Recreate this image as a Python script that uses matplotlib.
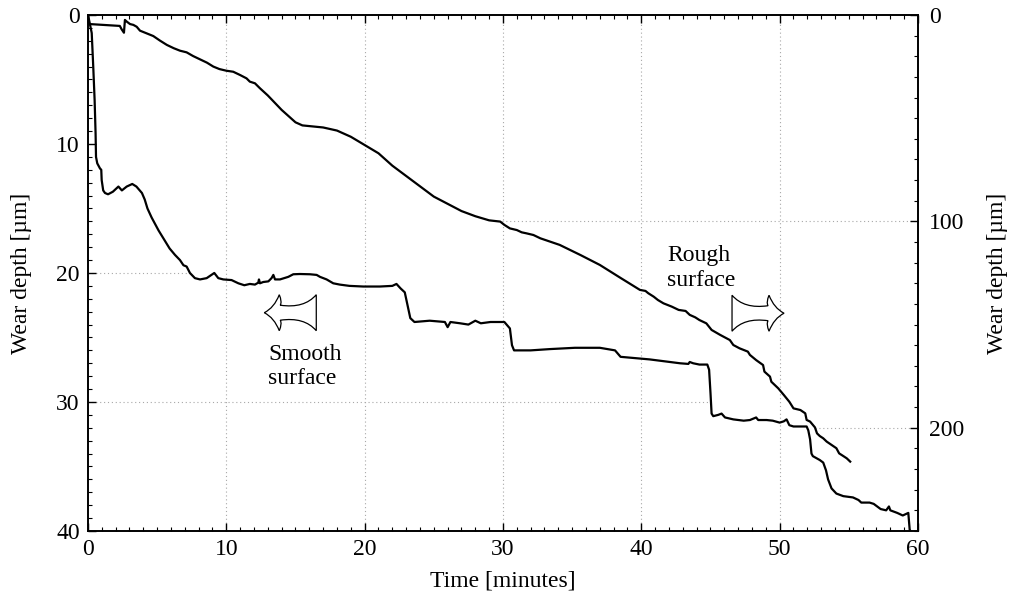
"""Wear depth over time for a smooth and a rough surface (twin y axes)"""

import numpy as np
import matplotlib

matplotlib.use("Agg")
import matplotlib.pyplot as plt
from matplotlib.path import Path
from matplotlib.patches import PathPatch
from matplotlib.ticker import MultipleLocator, FixedLocator
import matplotlib.transforms as mtrans

plt.rcParams["font.family"] = ["Liberation Serif", "DejaVu Serif"]
plt.rcParams["font.size"] = 17

# smooth surface: (time [min], wear depth [um]) -> left axis
smooth_points = [
    (0, 0), (0.12, 0.6), (0.27, 1.4), (0.38, 4.0), (0.48, 6.6), (0.55, 9.2),
    (0.58, 11.0), (0.67, 11.5), (0.87, 11.9), (0.96, 12.0), (0.99, 12.8),
    (1.1, 13.6), (1.23, 13.8), (1.45, 13.9), (1.8, 13.7), (2.2, 13.3),
    (2.45, 13.6), (2.8, 13.3), (3.2, 13.1), (3.5, 13.3), (3.9, 13.8),
    (4.1, 14.3), (4.3, 15.0), (4.6, 15.7), (5.1, 16.7), (5.9, 18.1),
    (6.29, 18.6), (6.65, 19.0), (6.9, 19.4), (7.13, 19.5), (7.37, 20.0),
    (7.73, 20.4), (8.1, 20.5), (8.58, 20.4), (9.13, 20.0), (9.42, 20.4),
    (9.78, 20.5), (10.38, 20.55), (10.87, 20.8), (11.3, 20.95), (11.7, 20.85),
    (12.07, 20.9), (12.31, 20.75), (12.36, 20.5), (12.43, 20.8), (12.67, 20.7),
    (13.04, 20.65), (13.27, 20.4), (13.4, 20.15), (13.52, 20.5), (13.88, 20.5),
    (14.48, 20.3), (14.84, 20.1), (15.32, 20.08), (16.05, 20.1), (16.53, 20.15),
    (16.77, 20.3), (17.25, 20.5), (17.73, 20.8), (18.2, 20.9), (18.9, 21.0),
    (19.9, 21.05), (21.1, 21.05), (22.0, 21.0), (22.3, 20.85), (22.6, 21.2),
    (22.9, 21.5), (23.1, 22.5), (23.3, 23.5), (23.6, 23.8), (24.7, 23.7),
    (25.8, 23.8), (26.0, 24.2), (26.2, 23.8), (26.9, 23.9), (27.5, 24.0),
    (28.0, 23.7), (28.4, 23.9), (29.1, 23.8), (30.1, 23.8), (30.5, 24.3),
    (30.65, 25.6), (30.8, 26.0), (32.0, 26.0), (33.4, 25.9), (35.2, 25.8),
    (37.0, 25.8), (38.1, 26.0), (38.5, 26.5), (40.6, 26.7), (42.8, 27.0),
    (43.4, 27.05), (43.5, 26.9), (43.75, 27.0), (44.2, 27.1), (44.77, 27.1),
    (44.9, 27.5), (45.0, 29.3), (45.08, 30.9), (45.2, 31.1), (45.56, 31.0),
    (45.8, 30.9), (46.05, 31.2), (46.65, 31.35), (47.4, 31.45), (47.85, 31.4),
    (48.3, 31.2), (48.45, 31.4), (49.06, 31.4), (49.5, 31.45), (50.0, 31.6),
    (50.3, 31.5), (50.5, 31.35), (50.7, 31.8), (51.0, 31.9), (51.7, 31.9),
    (51.95, 31.9), (52.07, 32.2), (52.2, 32.9), (52.3, 34.0), (52.4, 34.2),
    (52.9, 34.5), (53.15, 34.7), (53.35, 35.3), (53.5, 36.0), (53.75, 36.7),
    (54.1, 37.1), (54.6, 37.3), (55.3, 37.4), (55.7, 37.6), (55.9, 37.8),
    (56.5, 37.8), (56.8, 37.9), (57.3, 38.3), (57.7, 38.4), (57.9, 38.1),
    (58.0, 38.4), (58.5, 38.6), (58.9, 38.8), (59.3, 38.6), (59.4, 39.9),
    (59.5, 40.1),
]

# rough surface: (time [min], wear depth [um]) -> right axis
rough_points = [
    (0, 0), (0.05, 4.5), (0.12, 4.4), (2.3, 5.3), (2.43, 6.9), (2.6, 8.6),
    (2.67, 2.4), (2.8, 3.2), (3.04, 4.4), (3.28, 4.8), (3.52, 5.7),
    (3.76, 7.6), (4.24, 8.9), (4.72, 10.2), (5.2, 12.4), (5.7, 14.5),
    (6.2, 16.1), (6.65, 17.3), (7.13, 18.1), (7.6, 19.9), (8.1, 21.5),
    (8.6, 23.1), (9.06, 25.0), (9.5, 26.2), (10.0, 27.0), (10.5, 27.5),
    (11.0, 29.1), (11.46, 30.7), (11.7, 32.3), (12.07, 33.1), (12.43, 35.5),
    (13, 39), (14, 46), (15, 52), (15.5, 53.5), (17, 54.5), (18, 56),
    (19, 59), (20, 63), (21, 67), (22, 73), (23, 78), (24, 83), (25, 88),
    (26, 91.5), (27, 95), (28, 97.5), (29, 99.5), (29.8, 100.1),
    (30.1, 101.7), (30.5, 103.4), (31.0, 104.2), (31.35, 105.3), (31.7, 105.8),
    (32.2, 106.6), (32.7, 108.2), (34.1, 111.4), (35.6, 116.3), (37.0, 121.1),
    (38.5, 127.4), (39.9, 133.2), (40.3, 133.7), (40.5, 134.8), (40.9, 136.5),
    (41.2, 138.1), (41.6, 139.7), (42.2, 141.3), (42.7, 142.9), (43.2, 143.4),
    (43.5, 145.3), (43.9, 146.5), (44.2, 147.8), (44.7, 149.4), (45.08, 152.6),
    (45.7, 155.0), (46.4, 157.5), (46.65, 159.9), (47.1, 161.5), (47.7, 163.1),
    (47.85, 164.7), (48.3, 167.2), (48.8, 169.6), (48.9, 172.8), (49.3, 175.2),
    (49.4, 177.7), (49.9, 180.9), (50.3, 184.1), (50.7, 187.4), (51.0, 190.6),
    (51.5, 191.4), (51.85, 193.0), (51.95, 196.2), (52.2, 197.0), (52.3, 197.8),
    (52.55, 199.8), (52.7, 202.7), (52.9, 204.0), (53.15, 205.1), (53.4, 206.7),
    (53.75, 208.3), (54.1, 209.9), (54.3, 212.4), (54.6, 213.7), (54.85, 214.8),
    (55.1, 216.4),
]

time_ticks = [0, 10, 20, 30, 40, 50, 60]
left_ticks = [0, 10, 20, 30, 40]
right_ticks = [0, 100, 200]
left_grid_levels = [20, 30]
right_grid_levels = [100, 200]

GRID_KW = dict(color="#a8a8a8", linestyle=(0, (1, 2.5)), linewidth=0.8, zorder=1)


def first_crossing(t: np.ndarray, d: np.ndarray, level: float) -> float:
    """Time at which the curve first reaches the given depth"""
    i = int(np.argmax(d >= level))
    if i == 0:
        return t[0]
    return float(np.interp(level, [d[i - 1], d[i]], [t[i - 1], t[i]]))


def arrow_path(flip: bool) -> Path:
    """Hollow arrow with concave head and tail, sizes in pixels, tip at origin"""
    s = 1 if flip else -1  # -1 -> pointing left
    verts = [
        (0, 0),
        (-s * 10, 5), (-s * 15, 18),
        (-s * 18, 11), (-s * 16, 7.5),
        (-s * 40, 4), (-s * 52, 18),
        (-s * 52, -18),
        (-s * 40, -4), (-s * 16, -7.5),
        (-s * 18, -11), (-s * 15, -18),
        (-s * 10, -5), (0, 0),
        (0, 0),
    ]
    codes = [
        Path.MOVETO,
        Path.CURVE3, Path.CURVE3,
        Path.CURVE3, Path.CURVE3,
        Path.CURVE3, Path.CURVE3,
        Path.LINETO,
        Path.CURVE3, Path.CURVE3,
        Path.CURVE3, Path.CURVE3,
        Path.CURVE3, Path.CURVE3,
        Path.CLOSEPOLY,
    ]
    return Path(verts, codes)


def add_arrow(fig, ax, xf: float, yf: float, flip: bool) -> None:
    """Draw an outlined arrow whose tip sits at (xf, yf) in axes fraction"""
    trans = (
        mtrans.Affine2D().scale(1 / 100.0)
        + fig.dpi_scale_trans
        + mtrans.ScaledTranslation(xf, yf, ax.transAxes)
    )
    patch = PathPatch(arrow_path(flip), facecolor="white", edgecolor="black",
                      linewidth=0.9, transform=trans, clip_on=False, zorder=5)
    fig.add_artist(patch)


def plot_wear() -> None:
    st, sd = np.array(smooth_points).T
    rt, rd = np.array(rough_points).T

    fig = plt.figure(figsize=(10.09, 5.97), dpi=100)
    ax = fig.add_axes([0.0872, 0.1106, 0.8226, 0.8643])
    ax2 = ax.twinx()

    ax.set_xlim(0, 60)
    ax.set_ylim(40, 0)
    ax2.set_ylim(250, 0)

    # vertical grid over full height, horizontal only where not covered
    for x in time_ticks[1:-1]:
        ax.axvline(x, **GRID_KW)
    for lev in left_grid_levels:
        ax.plot([0, first_crossing(st, sd, lev)], [lev, lev], **GRID_KW)
    for lev in right_grid_levels:
        ax2.plot([first_crossing(rt, rd, lev), 60], [lev, lev], **GRID_KW)

    ax.plot(st, sd, color="black", linewidth=1.6, zorder=3)
    ax2.plot(rt, rd, color="black", linewidth=1.6, zorder=3)

    ax.xaxis.set_major_locator(FixedLocator(time_ticks))
    ax.xaxis.set_minor_locator(MultipleLocator(1))
    ax.yaxis.set_major_locator(FixedLocator(left_ticks))
    ax.yaxis.set_minor_locator(MultipleLocator(1))
    ax2.yaxis.set_major_locator(FixedLocator(right_ticks))
    ax2.yaxis.set_minor_locator(MultipleLocator(10))

    ax.tick_params(which="both", direction="in", top=True, right=False)
    ax.tick_params(which="major", length=6, width=1.0)
    ax.tick_params(which="minor", length=3, width=0.8)
    ax.tick_params(axis="x", pad=6)
    ax.tick_params(axis="y", pad=6)
    ax2.tick_params(which="both", direction="in")
    ax2.tick_params(which="major", length=6, width=1.0, pad=8)
    ax2.tick_params(which="minor", length=3, width=0.8)

    for a in (ax, ax2):
        for sp in a.spines.values():
            sp.set_linewidth(1.2)

    ax.set_xlabel("Time [minutes]")
    ax.set_ylabel("Wear depth [µm]")
    ax2.set_ylabel("Wear depth [µm]")
    ax.xaxis.set_label_coords(0.5, -0.077)
    ax.yaxis.set_label_coords(-0.0675, 0.5)
    ax2.yaxis.set_label_coords(1.083, 0.5)

    ax.text(0.2169, 0.318, "Smooth\nsurface", transform=ax.transAxes,
            ha="left", va="center", linespacing=1.2, zorder=6)
    ax.text(0.6976, 0.5097, "Rough\nsurface", transform=ax.transAxes,
            ha="left", va="center", linespacing=1.2, zorder=6)
    add_arrow(fig, ax, 0.2124, 0.423, flip=False)
    add_arrow(fig, ax, 0.8386, 0.422, flip=True)

    fig.savefig("out.png", dpi=100)


if __name__ == "__main__":
    plot_wear()
